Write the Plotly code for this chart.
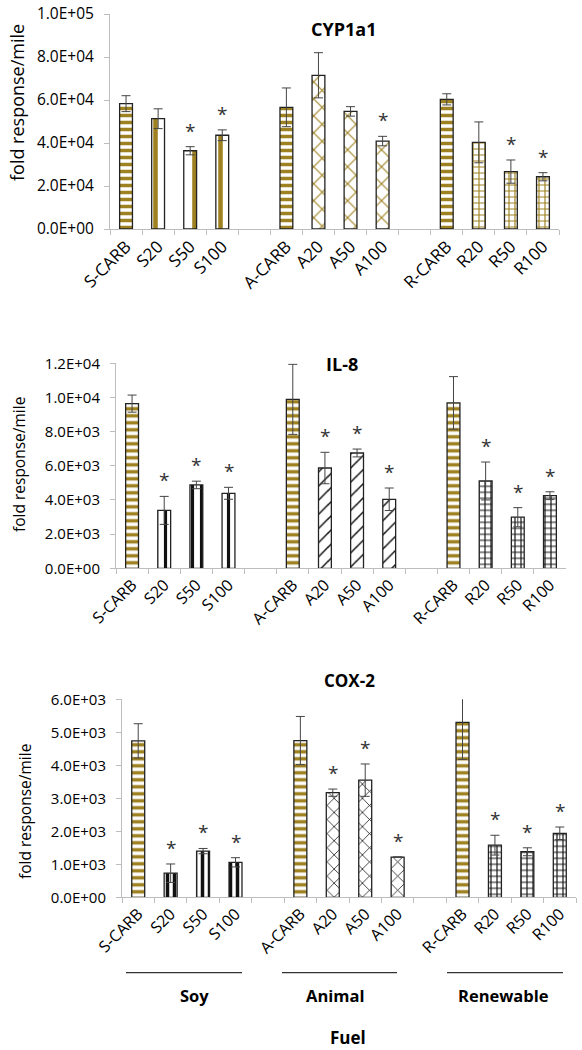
import plotly.graph_objects as go

# ---------------- data ----------------
categories = ["S-CARB", "S20", "S50", "S100", " ",
              "A-CARB", "A20", "A50", "A100", "  ",
              "R-CARB", "R20", "R50", "R100"]
groups = {
    "CARB": ["S-CARB", "A-CARB", "R-CARB"],
    "S": ["S20", "S50", "S100"],
    "A": ["A20", "A50", "A100"],
    "R": ["R20", "R50", "R100"],
}
bar_names = ["S-CARB", "S20", "S50", "S100",
             "A-CARB", "A20", "A50", "A100",
             "R-CARB", "R20", "R50", "R100"]

cyp_mean = [5.83e4, 5.13e4, 3.64e4, 4.36e4, 5.66e4, 7.15e4, 5.47e4, 4.09e4, 6.03e4, 4.03e4, 2.67e4, 2.43e4]
cyp_err = [0.37e4, 0.46e4, 0.19e4, 0.25e4, 0.90e4, 1.05e4, 0.22e4, 0.22e4, 0.26e4, 0.95e4, 0.54e4, 0.19e4]
cyp_sig = [0, 0, 1, 1, 0, 0, 0, 1, 0, 0, 1, 1]

il8_mean = [9640, 3390, 4880, 4390, 9890, 5870, 6750, 4040, 9680, 5110, 2990, 4250]
il8_err = [500, 820, 220, 350, 2050, 920, 230, 660, 1540, 1110, 560, 230]
il8_sig = [0, 1, 1, 1, 0, 1, 1, 1, 0, 1, 1, 1]

cox_mean = [4740, 730, 1400, 1060, 4750, 3170, 3550, 1220, 5300, 1580, 1380, 1940]
cox_err = [520, 280, 80, 140, 730, 110, 490, 0, 1120, 300, 120, 190]
cox_sig = [0, 1, 1, 1, 0, 1, 1, 1, 0, 1, 1, 1]

cyp_ticks = [0, 2e4, 4e4, 6e4, 8e4, 1e5]
cyp_ticktext = ["0.0E+00", "2.0E+04", "4.0E+04", "6.0E+04", "8.0E+04", "1.0E+05"]
il8_ticks = [0, 2000, 4000, 6000, 8000, 10000, 12000]
il8_ticktext = ["0.0E+00", "2.0E+03", "4.0E+03", "6.0E+03", "8.0E+03", "1.0E+04", "1.2E+04"]
cox_ticks = [0, 1000, 2000, 3000, 4000, 5000, 6000]
cox_ticktext = ["0.0E+00", "1.0E+03", "2.0E+03", "3.0E+03", "4.0E+03", "5.0E+03", "6.0E+03"]

titles = ["CYP1a1", "IL-8", "COX-2"]
fuel_groups = ["Soy", "Animal", "Renewable"]
y_title = "fold response/mile"
x_title = "Fuel"

# ---------------- styling ----------------
W, H = 582, 1050
GOLD = "#9E8222"
BLACK = "#111111"
FONT = "Open Sans"
AXCOL = "#BDBDBD"

patterns = [
    {"CARB": ("-", GOLD, 7, 0.5), "S": ("|", GOLD, 13, 0.35), "A": ("x", GOLD, 12, 0.18), "R": ("+", GOLD, 6, 0.35)},
    {"CARB": ("-", GOLD, 7, 0.5), "S": ("|", BLACK, 9, 0.35), "A": ("/", BLACK, 10, 0.15), "R": ("+", BLACK, 6, 0.35)},
    {"CARB": ("-", GOLD, 7, 0.5), "S": ("|", BLACK, 7, 0.5), "A": ("x", BLACK, 10, 0.15), "R": ("+", BLACK, 6, 0.35)},
]

# plot areas in pixels: (x0, x1, ytop, ybottom)
areas = [(110, 559, 14, 229), (116, 566, 363.3, 568.3), (122, 576, 699.3, 897.3)]
ranges = [(0, 1e5), (0, 12000), (0, 6000)]
data = [(cyp_mean, cyp_err, cyp_sig), (il8_mean, il8_err, il8_sig), (cox_mean, cox_err, cox_sig)]
ticks = [(cyp_ticks, cyp_ticktext), (il8_ticks, il8_ticktext), (cox_ticks, cox_ticktext)]
ytitle_px = [(17, 103), (19, 465), (25, 812)]
ytitle_size = [18, 15.5, 15.5]
cat_size = [17, 16, 16]
tick_size = [15.5, 15, 15]
title_px = [(343, 29), (342, 364), (349, 680)]
title_size = [18, 18, 17]

fig = go.Figure()
layout = dict(width=W, height=H, margin=dict(l=0, r=0, t=0, b=0, autoexpand=False),
              plot_bgcolor="white", paper_bgcolor="white", showlegend=False,
              barmode="overlay", font=dict(family=FONT, size=14, color="#000"))
annotations = []
shapes = []

for i in range(3):
    sfx = "" if i == 0 else str(i + 1)
    xa, ya = "x" + sfx, "y" + sfx
    mean, err, sig = data[i]
    for g, names in groups.items():
        idx = [bar_names.index(n) for n in names]
        shape, col, size, sol = patterns[i][g]
        fig.add_trace(go.Bar(
            x=names, y=[mean[k] for k in idx], width=0.4,
            xaxis=xa, yaxis=ya, opacity=1,
            marker=dict(color="white", opacity=1, line=dict(color="#222", width=1.3),
                        pattern=dict(shape=shape, fgcolor=col, bgcolor="white", size=size, solidity=sol,
                                     fgopacity=1, fillmode="overlay")),
            error_y=dict(type="data", array=[err[k] for k in idx], color="#444", thickness=1, width=4.5,
                         visible=True),
        ))
    # gap placeholders so that the empty slots exist on the category axis
    fig.add_trace(go.Bar(x=[" ", "  "], y=[None, None], xaxis=xa, yaxis=ya, hoverinfo="skip"))
    # significance stars
    for k in range(len(bar_names)):
        if sig[k]:
            annotations.append(dict(text="*", x=bar_names[k], y=mean[k] + err[k], xref=xa, yref=ya,
                                    showarrow=False, yanchor="middle", xanchor="center", yshift=16,
                                    font=dict(family=FONT, size=19, color="#333333")))

    x0, x1, yt, yb = areas[i]
    layout["xaxis" + sfx] = dict(
        domain=[x0 / W, x1 / W], anchor=ya, type="category", automargin=False,
        categoryorder="array", categoryarray=categories,
        tickson="boundaries", ticks="outside", ticklen=5, tickcolor=AXCOL,
        showline=True, linecolor=AXCOL, linewidth=1, tickangle=-45,
        showgrid=False, tickfont=dict(family=FONT, size=cat_size[i], color="#000"),
        range=[-0.5, 13.5], fixedrange=True,
    )
    layout["yaxis" + sfx] = dict(
        domain=[1 - yb / H, 1 - yt / H], anchor=xa, range=list(ranges[i]), automargin=False,
        tickvals=ticks[i][0], ticktext=ticks[i][1], ticks="outside", ticklen=5, tickcolor=AXCOL,
        ticklabelstandoff=7,
        showline=True, linecolor=AXCOL, linewidth=1, showgrid=False, zeroline=False,
        tickfont=dict(family=FONT, size=tick_size[i], color="#000"),
    )
    tx, ty = ytitle_px[i]
    annotations.append(dict(text=y_title, x=tx / W, y=1 - ty / H, xref="paper", yref="paper",
                            textangle=-90, showarrow=False, font=dict(family=FONT, size=ytitle_size[i], color="#000"),
                            xanchor="center", yanchor="middle"))
    hx, hy = title_px[i]
    annotations.append(dict(text="<b>" + titles[i] + "</b>", x=hx / W, y=1 - hy / H, xref="paper", yref="paper",
                            showarrow=False, font=dict(family=FONT, size=title_size[i], color="#000"),
                            xanchor="center", yanchor="middle"))

# fuel group underlines and labels (bottom panel)
line_px = [(126, 242), (282, 397), (447, 563)]
label_px = [195, 335, 503]
for (a, b), lx, name in zip(line_px, label_px, fuel_groups):
    shapes.append(dict(type="line", xref="paper", yref="paper", x0=a / W, x1=b / W,
                       y0=1 - 972.7 / H, y1=1 - 972.7 / H, line=dict(color="#333", width=1.2)))
    annotations.append(dict(text="<b>" + name + "</b>", x=lx / W, y=1 - 995 / H, xref="paper", yref="paper",
                            showarrow=False, font=dict(family=FONT, size=16.5, color="#000"),
                            xanchor="center", yanchor="middle"))
annotations.append(dict(text="<b>" + x_title + "</b>", x=348 / W, y=1 - 1037 / H, xref="paper", yref="paper",
                        showarrow=False, font=dict(family=FONT, size=17, color="#000"),
                        xanchor="center", yanchor="middle"))

layout["annotations"] = annotations
layout["shapes"] = shapes
fig.update_layout(**layout)
fig.write_html("out.html", config={"displayModeBar": False},
               post_script="document.body.style.margin='0';document.body.style.padding='0';"
                           "document.documentElement.style.overflow='hidden';")
